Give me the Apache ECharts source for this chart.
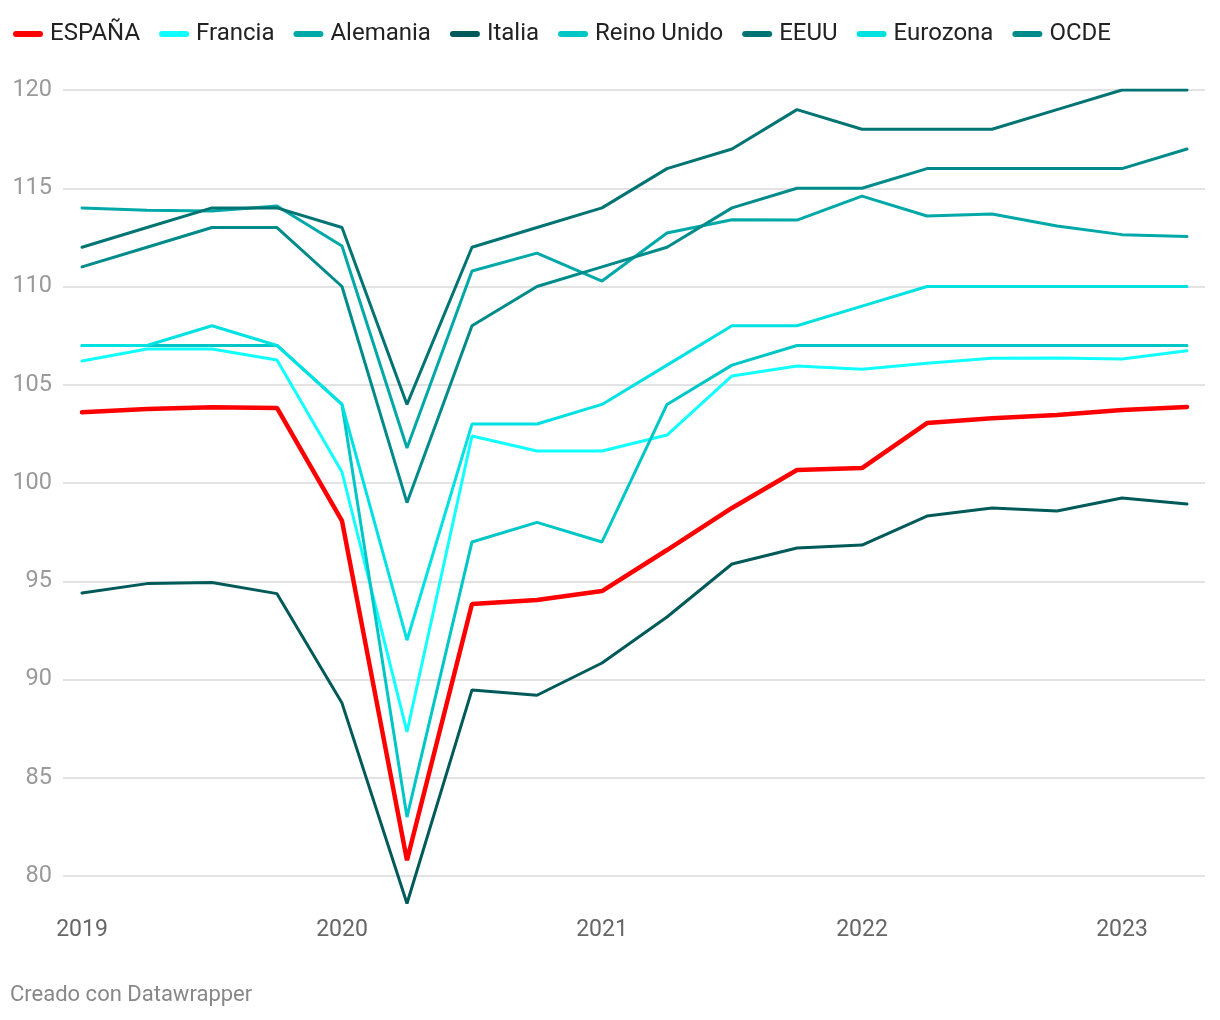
<!DOCTYPE html>
<html>
<head>
<meta charset="utf-8">
<script src="https://cdn.jsdelivr.net/npm/echarts@6/dist/echarts.min.js"></script>
<style>
html,body{margin:0;padding:0;background:#fff;}
#chart{width:1220px;height:1020px;}
</style>
</head>
<body>
<div id="chart"></div>
<script>
// Quarters 2019 Q1 .. 2023 Q2
var quarters = ['2019T1','2019T2','2019T3','2019T4','2020T1','2020T2','2020T3','2020T4','2021T1','2021T2','2021T3','2021T4','2022T1','2022T2','2022T3','2022T4','2023T1','2023T2'];
var yearTickIndex = [0, 4, 8, 12, 16];
var yearLabels = ['2019', '2020', '2021', '2022', '2023'];
var yTicks = [80, 85, 90, 95, 100, 105, 110, 115, 120];

var espana    = [103.6, 103.77, 103.85, 103.82, 98.07, 80.8, 93.84, 94.05, 94.5, 96.59, 98.73, 100.66, 100.76, 103.05, 103.3, 103.46, 103.72, 103.87];
var francia   = [106.21, 106.82, 106.82, 106.26, 100.56, 87.33, 102.39, 101.63, 101.63, 102.44, 105.45, 105.95, 105.79, 106.1, 106.35, 106.36, 106.31, 106.73];
var alemania  = [114.0, 113.88, 113.84, 114.1, 112.06, 101.78, 110.79, 111.7, 110.28, 112.72, 113.4, 113.38, 114.6, 113.59, 113.69, 113.08, 112.64, 112.54];
var italia    = [94.4, 94.88, 94.94, 94.37, 88.8, 78.6, 89.47, 89.2, 90.84, 93.18, 95.88, 96.69, 96.84, 98.32, 98.73, 98.58, 99.24, 98.93];
var reinoUnido= [107, 107, 107, 107, 104, 83, 97, 98, 97, 104, 106, 107, 107, 107, 107, 107, 107, 107];
var eeuu      = [112, 113, 114, 114, 113, 104, 112, 113, 114, 116, 117, 119, 118, 118, 118, 119, 120, 120];
var eurozona  = [107, 107, 108, 107, 104, 92, 103, 103, 104, 106, 108, 108, 109, 110, 110, 110, 110, 110];
var ocde      = [111, 112, 113, 113, 110, 99, 108, 110, 111, 112, 114, 115, 115, 116, 116, 116, 116, 117];

var seriesDefs = [
  {name:'ESPAÑA', data:espana, color:'#ff0000', width:4.5, z:10},
  {name:'Francia', data:francia, color:'#12ffff', width:3, z:3},
  {name:'Alemania', data:alemania, color:'#00a8a8', width:3, z:3},
  {name:'Italia', data:italia, color:'#005a5a', width:3, z:3},
  {name:'Reino Unido', data:reinoUnido, color:'#00c6c6', width:3, z:3},
  {name:'EEUU', data:eeuu, color:'#007373', width:3, z:3},
  {name:'Eurozona', data:eurozona, color:'#00e2e2', width:3, z:3},
  {name:'OCDE', data:ocde, color:'#008b8b', width:3, z:3}
];

function pairs(arr){ return arr.map(function(v,i){ return [i, v]; }); }

var chart = echarts.init(document.getElementById('chart'), null, {renderer:'canvas'});
var option = {
  backgroundColor:'#ffffff',
  animation:false,
  textStyle:{fontFamily:'Roboto'},
  legend:{
    left:8, top:17,
    icon:'path://M3,0 L27,0 A3,3 0 0 1 27,6 L3,6 A3,3 0 0 1 3,0 Z',
    itemWidth:30, itemHeight:6, itemGap:19,
    textStyle:{fontFamily:'Roboto', fontSize:24, color:'#222', padding:[0,0,0,2]},
    data: seriesDefs.map(function(s){ return s.name; })
  },
  grid:{left:63, right:15, top:90, bottom:114.5, containLabel:false},
  xAxis:{
    type:'value', min:-0.292, max:17.277,
    axisLine:{show:false}, axisTick:{show:false}, splitLine:{show:false},
    axisLabel:{
      customValues: yearTickIndex,
      formatter:function(v){ var k = yearTickIndex.indexOf(Math.round(v)); return k>=0 ? yearLabels[k] : ''; },
      fontFamily:'Roboto', fontSize:23, color:'#666', margin:13
    }
  },
  yAxis:{
    type:'value', min:78.5, max:120,
    axisLine:{show:false},
    axisTick:{show:false, customValues:yTicks},
    axisLabel:{customValues:yTicks, fontFamily:'Roboto', fontSize:23.5, color:'#9a9a9a', margin:11},
    splitLine:{show:true, lineStyle:{color:'#e3e3e3', width:2}}
  },
  graphic:[{
    type:'text', left:10, top:984,
    style:{text:'Creado con Datawrapper', font:'22px Roboto', fill:'#888'}
  }],
  series: seriesDefs.map(function(s){
    return {
      name:s.name, type:'line', data:pairs(s.data), showSymbol:false, symbol:'none',
      z:s.z, color:s.color,
      lineStyle:{color:s.color, width:s.width, cap:'round'}
    };
  })
};
chart.setOption(option);
</script>
</body>
</html>
